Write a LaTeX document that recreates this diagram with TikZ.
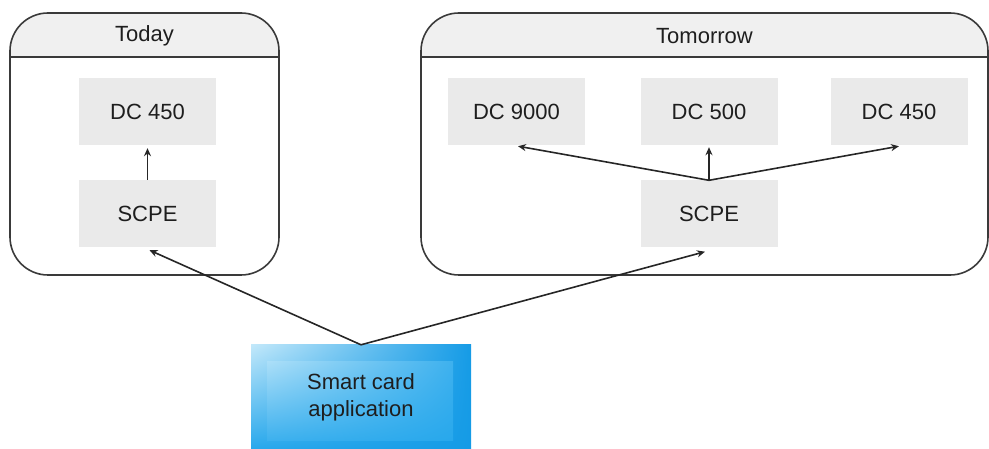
\documentclass[tikz,border=0pt]{standalone}
\usepackage{fontspec}
\setmainfont{Liberation Sans}
\usetikzlibrary{arrows.meta,calc,shadings}
\definecolor{frame}{HTML}{3A3A3A}
\definecolor{boxgray}{HTML}{EAEAEA}
\definecolor{hdr}{HTML}{F0F0F0}
\definecolor{bluelt}{HTML}{C2E8FA}
\definecolor{bluemd}{HTML}{28A8EC}
\definecolor{bluedk}{HTML}{159BE6}
\definecolor{txt}{HTML}{1E1E1E}
\tikzset{
  lbl/.style={font=\fontsize{22}{27}\selectfont, text=txt},
  dcbox/.style={lbl, fill=boxgray, minimum width=137pt, minimum height=67pt, inner sep=0pt},
  container/.style={draw=frame, line width=1.6pt, rounded corners=38pt},
  conn/.style={draw=black!85, line width=1.6pt, -{Stealth[length=8pt,width=7pt]}}
}
\begin{document}
\begin{tikzpicture}[x=1pt,y=-1pt]
\useasboundingbox (0,0) rectangle (989,449);
% Today container
\begin{scope}
  \clip[rounded corners=38pt] (10,13) rectangle (279,275);
  \fill[hdr] (10,13) rectangle (279,57);
\end{scope}
\path[container] (10,13) rectangle (279,275);
\draw[frame, line width=1.6pt] (10,57) -- (279,57);
\node[lbl] (today) at (144.5,36) {Today};
% Tomorrow container
\begin{scope}
  \clip[rounded corners=38pt] (421,13) rectangle (988,275);
  \fill[hdr] (421,13) rectangle (988,57);
\end{scope}
\path[container] (421,13) rectangle (988,275);
\draw[frame, line width=1.6pt] (421,57) -- (988,57);
\node[lbl] (tomorrow) at (704.5,36) {Tomorrow};
% boxes
\node[dcbox] (dcA) at (147.5,111.5) {DC 450};
\node[dcbox] (scA) at (147.5,213.5) {SCPE};
\node[dcbox] (dc9) at (516.5,111.5) {DC 9000};
\node[dcbox] (dc5) at (709,111.5) {DC 500};
\node[dcbox] (dc4) at (899,111.5) {DC 450};
\node[dcbox] (scB) at (709,214) {SCPE};
% smart card application
\shade[upper left=bluelt, upper right=bluedk, lower left=bluemd, lower right=bluedk] (251,345) rectangle (471,449);
\shade[upper left=bluelt!85!bluemd, upper right=bluemd!90!white, lower left=bluemd!90!white, lower right=bluemd] (267,362) rectangle (453,440);
\node[lbl, align=center, minimum width=220pt, minimum height=104pt, inner sep=0pt] (sc) at (361,397) {Smart card\\application};
% connectors
\path[conn] (scA.north) -- ($(dcA.south)+(0,3)$);
\coordinate (fan) at (scB.north);
\path[conn] (fan) -- ($(dc9.south)+(1.5,1)$);
\path[conn] (fan) -- ($(dc5.south)+(0,2)$);
\path[conn] (fan) -- ($(dc4.south)+(0,1)$);
\path[conn] (sc.north) -- ($(scA.south)+(2,3)$);
\path[conn] (sc.north) -- ($(scB.south)+(-4,4)$);
\end{tikzpicture}
\end{document}
